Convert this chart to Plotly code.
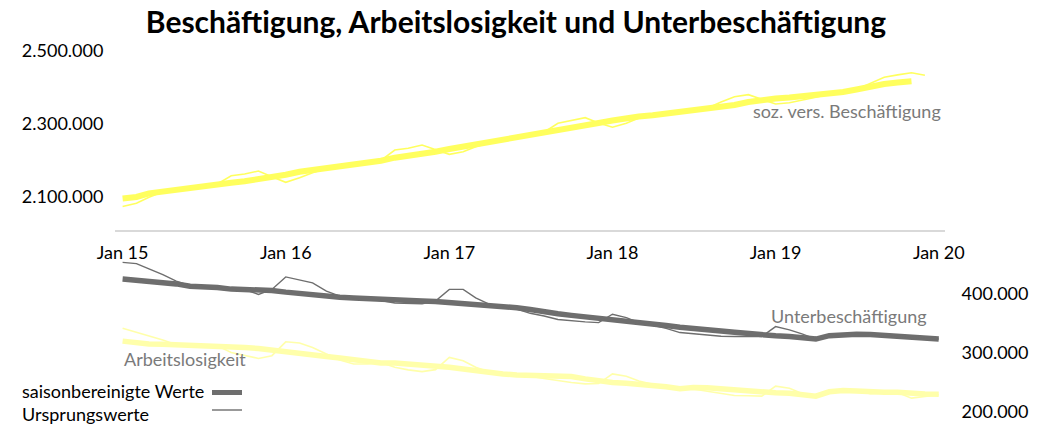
import pandas as pd
import plotly.graph_objects as go

# ---------------- data ----------------
months = pd.date_range("2015-01-01", periods=61, freq="MS")

emp_sa = [2096000, 2100000, 2110100, 2115600, 2119200, 2122700, 2129300, 2134800, 2139200, 2143000,
          2148500, 2155600, 2161100, 2169300, 2174000, 2178600, 2183000, 2190400, 2192300, 2199500,
          2207700, 2212300, 2215900, 2224100, 2231500, 2237800, 2244400, 2249900, 2258100, 2265200,
          2271300, 2278100, 2283600, 2289100, 2294500, 2302800, 2309600, 2316500, 2320600, 2324100,
          2328800, 2334300, 2338900, 2342500, 2346600, 2352100, 2360300, 2365800, 2369900, 2372600,
          2375400, 2378700, 2382200, 2387700, 2394600, 2403300, 2409600, 2413700, 2417000]

emp_orig = [2074000, 2082700, 2099200, 2114200, 2119000, 2123300, 2128800, 2135600, 2158400, 2163000,
            2171200, 2155600, 2140300, 2152900, 2166600, 2178100, 2183600, 2189900, 2193200, 2200000,
            2228800, 2233400, 2242500, 2230700, 2217000, 2224100, 2237800, 2249300, 2257600, 2265800,
            2271300, 2277600, 2301900, 2310200, 2317300, 2302800, 2291000, 2301900, 2316500, 2323300,
            2328800, 2334800, 2338400, 2343000, 2360300, 2374800, 2380300, 2367700, 2354800, 2358400,
            2365000, 2373200, 2382200, 2386900, 2394600, 2411500, 2428000, 2434500, 2440300, 2433500]

under_sa = [424500, 422300, 422000, 419500, 416100, 412300, 412000, 410100, 407300, 406800,
            404400, 405100, 402200, 399400, 397700, 395500, 393400, 392200, 391000, 389300,
            387700, 387200, 387100, 386600, 385000, 384300, 382600, 379900, 377600, 375900,
            372900, 368700, 365700, 363000, 360700, 358700, 356100, 354500, 352000, 348600,
            345900, 343100, 340200, 338200, 336500, 334400, 331800, 329800, 328500, 327300,
            325100, 323000, 328800, 330800, 331300, 330700, 329000, 328000, 326800, 325100,
            323000]

under_orig = [452500, 450300, 441300, 431900, 420700, 413100, 411300, 410600, 406800, 406500,
              398400, 406800, 427900, 422300, 417800, 403900, 395500, 391300, 389700, 388000,
              383800, 382600, 382600, 387200, 406800, 406800, 392700, 381600, 377600, 373700,
              366500, 362000, 356100, 353600, 352000, 350800, 364900, 359200, 350800, 346100,
              341100, 334000, 331800, 329300, 327700, 327300, 327300, 327300, 344100, 338500,
              331800, 323000, 328600, 330900, 331200, 330800, 329100, 327900, 326700, 325200,
              323100]

unemp_sa = [319600, 316300, 314600, 314500, 313900, 312900, 311700, 311600, 310600, 308900,
            307200, 305000, 302200, 299500, 296600, 293800, 291100, 288300, 284900, 282700,
            282600, 281100, 279900, 278200, 275400, 272700, 269800, 267000, 264300, 262600,
            261500, 260600, 260900, 259800, 255900, 252200, 249700, 248400, 247000, 245900,
            242500, 239200, 241300, 241000, 239100, 237000, 234100, 233000, 232500, 231800,
            228800, 226800, 234100, 236300, 235500, 233500, 233400, 233500, 231300, 230500,
            230100]

unemp_orig = [341400, 334700, 328000, 321300, 313400, 310100, 312900, 311700, 300500, 295500,
              290400, 295000, 318400, 316300, 308900, 297800, 287800, 281100, 281000, 283700,
              275400, 271000, 268200, 271500, 292100, 286600, 275400, 267000, 262600, 261500,
              260300, 256400, 252600, 249700, 247500, 248000, 264300, 260300, 252200, 246900,
              243900, 241800, 238800, 235000, 230900, 227900, 227400, 226800, 243500, 240200,
              231300, 225400, 233800, 236600, 236300, 230800, 232100, 233000, 223400, 226300,
              229100]

title_text = "Beschäftigung, Arbeitslosigkeit und Unterbeschäftigung"
label_emp = "soz. vers. Beschäftigung"
label_under = "Unterbeschäftigung"
label_unemp = "Arbeitslosigkeit"
legend_sa = "saisonbereinigte Werte"
legend_orig = "Ursprungswerte"

# ---------------- styling ----------------
W, H = 1037, 426
L, R = 115, 945          # plot area in pixels
FONT = "Lato"
YEL = "#FFFF5E"
PALE = "#FFFFAA"
GREY = "#6E6E6E"
LABEL_GREY = "#7A7A7A"

def px(x):
    return (x - L) / (R - L)

def py(y):
    return 1 - y / H

fig = go.Figure()

# top panel: employment
fig.add_trace(go.Scatter(x=months[:len(emp_sa)], y=emp_sa, mode="lines",
                         line=dict(color=YEL, width=6), xaxis="x", yaxis="y"))
fig.add_trace(go.Scatter(x=months[:len(emp_orig)], y=emp_orig, mode="lines",
                         line=dict(color=YEL, width=1.6), xaxis="x", yaxis="y"))

# bottom panel: unemployment and underemployment
fig.add_trace(go.Scatter(x=months[:len(unemp_sa)], y=unemp_sa, mode="lines",
                         line=dict(color=PALE, width=5.5), xaxis="x2", yaxis="y2"))
fig.add_trace(go.Scatter(x=months[:len(unemp_orig)], y=unemp_orig, mode="lines",
                         line=dict(color=PALE, width=1.6), xaxis="x2", yaxis="y2"))
fig.add_trace(go.Scatter(x=months[:len(under_sa)], y=under_sa, mode="lines",
                         line=dict(color=GREY, width=5.5), xaxis="x2", yaxis="y2"))
fig.add_trace(go.Scatter(x=months[:len(under_orig)], y=under_orig, mode="lines",
                         line=dict(color=GREY, width=1.4), xaxis="x2", yaxis="y2"))

xr = ["2014-12-15", "2020-01-15"]

fig.update_layout(
    width=W, height=H,
    margin=dict(l=L, r=W - R, t=0, b=0, autoexpand=False),
    paper_bgcolor="white", plot_bgcolor="white",
    showlegend=False,
    hovermode=False,
    separators=",.",
    font=dict(family=FONT, color="#000000", size=18),
    title=dict(text="<b>" + title_text + "</b>", x=516 / W, xref="container", xanchor="center",
               y=1 - 22 / H, yref="container", yanchor="middle", automargin=False,
               font=dict(family=FONT, size=30, color="#000000")),
    xaxis=dict(type="date", range=xr, domain=[0, 1], anchor="y", automargin=False,
               showline=True, linecolor="#D9D9D9", linewidth=1.5,
               showgrid=False, zeroline=False,
               tick0="2015-01-01", dtick="M12", tickformat="%b %y",
               ticks="outside", ticklen=6, tickcolor="rgba(0,0,0,0)",
               tickfont=dict(family=FONT, size=18, color="#000000")),
    yaxis=dict(domain=[py(230), py(51)], range=[2009600, 2500000], anchor="x", automargin=False,
               showgrid=False, zeroline=False, showline=False,
               tick0=2100000, dtick=200000, tickformat=",d",
               ticks="outside", ticklen=7, tickcolor="rgba(0,0,0,0)",
               tickfont=dict(family=FONT, size=18, color="#000000")),
    xaxis2=dict(type="date", range=xr, domain=[0, 1], anchor="y2", matches="x", automargin=False,
                showline=False, showgrid=False, zeroline=False, showticklabels=False, ticks=""),
    yaxis2=dict(domain=[py(412), py(258)], range=[200000, 459800], anchor="x2", side="right",
                automargin=False,
                showgrid=False, zeroline=False, showline=False,
                tick0=200000, dtick=100000, tickformat=",d",
                ticks="outside", ticklen=12, tickcolor="rgba(0,0,0,0)",
                tickfont=dict(family=FONT, size=18, color="#000000")),
)

ann = [
    dict(text=label_emp, x=px(943), y=py(111), xanchor="right", yanchor="middle",
         font=dict(family=FONT, size=18, color=LABEL_GREY)),
    dict(text=label_under, x=px(849), y=py(316), xanchor="center", yanchor="middle",
         font=dict(family=FONT, size=18, color=LABEL_GREY)),
    dict(text=label_unemp, x=px(185), y=py(359), xanchor="center", yanchor="middle",
         font=dict(family=FONT, size=18, color=LABEL_GREY)),
    dict(text=legend_sa, x=px(20), y=py(391), xanchor="left", yanchor="middle",
         font=dict(family=FONT, size=18, color="#000000")),
    dict(text=legend_orig, x=px(20), y=py(414), xanchor="left", yanchor="middle",
         font=dict(family=FONT, size=18, color="#000000")),
]
for a in ann:
    a.update(xref="paper", yref="paper", showarrow=False)
fig.update_layout(annotations=ann)

fig.update_layout(shapes=[
    dict(type="line", xref="paper", yref="paper", x0=px(212), x1=px(242), y0=py(392.5), y1=py(392.5),
         line=dict(color=GREY, width=5)),
    dict(type="line", xref="paper", yref="paper", x0=px(212), x1=px(242), y0=py(410), y1=py(410),
         line=dict(color=GREY, width=1.4)),
])

fig.write_html("out.html",
               config={"displayModeBar": False, "staticPlot": True},
               post_script="document.body.style.margin='0';document.body.style.overflow='hidden';")
